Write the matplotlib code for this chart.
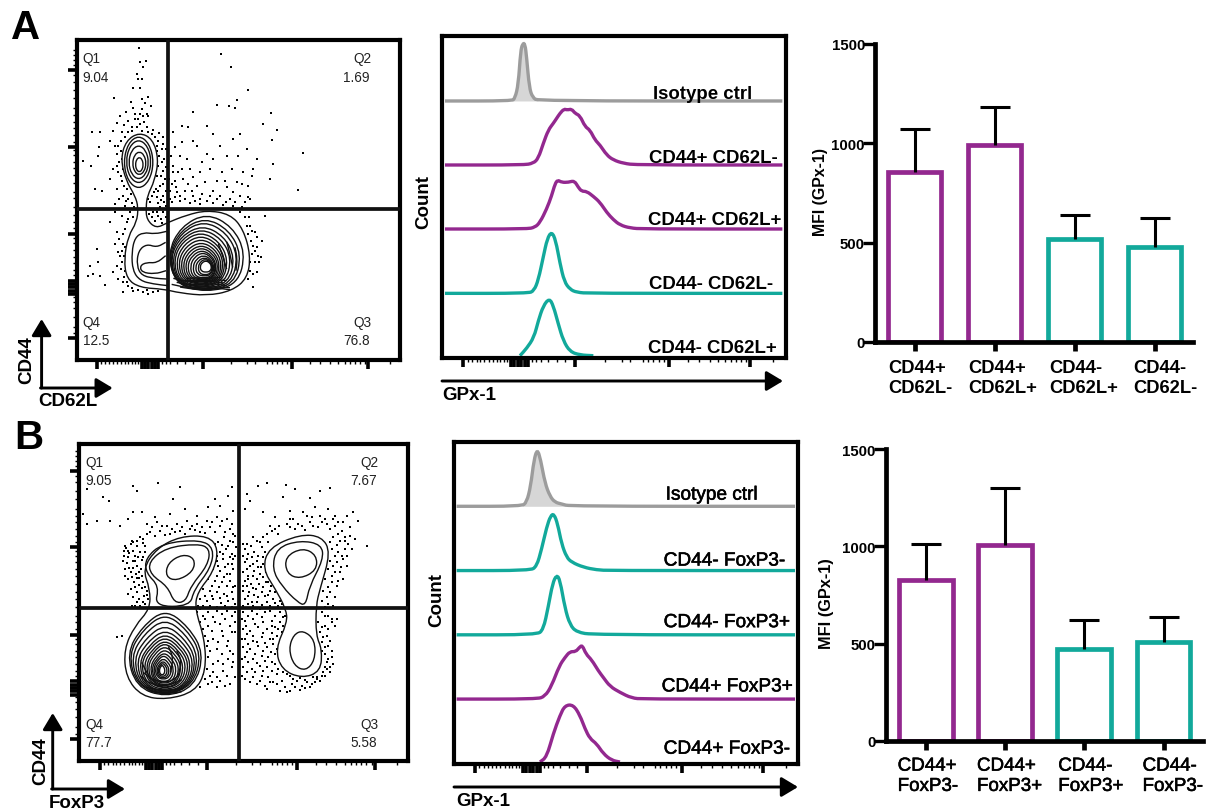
import numpy as np
import matplotlib
matplotlib.use("Agg")
import matplotlib.pyplot as plt
import matplotlib.patheffects as pe
from matplotlib.path import Path
from matplotlib.patches import PathPatch
from matplotlib.transforms import ScaledTranslation

plt.rcParams['font.family'] = ['Liberation Sans', 'DejaVu Sans']

W, H = 1208, 812
PURPLE = '#93288f'
TEAL = '#12a99b'
GREY = '#9c9c9c'

# ---- bar values
a_cats = ['CD44+\nCD62L-', 'CD44+\nCD62L+', 'CD44-\nCD62L+', 'CD44-\nCD62L-']
a_mfi = [855, 992, 516, 478]
a_top = [1073, 1185, 637, 623]
b_cats = ['CD44+\nFoxP3-', 'CD44+\nFoxP3+', 'CD44-\nFoxP3+', 'CD44-\nFoxP3-']
b_mfi = [827, 1006, 474, 508]
b_top = [1014, 1303, 621, 638]
bar_colors = [PURPLE, PURPLE, TEAL, TEAL]

# ---- histograms, (x, height above baseline)
a_iso = [(105,0),(305,0),(315,8),(325,50),(332,150),(338,172),(345,172),(350,130),(358,40),(368,10),(385,0),(1117,0)]
a_p1 = [(105,0),(340,0),(370,5),(385,20),(400,65),(415,105),(430,125),(440,140),(450,155),(462,168),(472,165),(485,168),(495,155),(510,148),(525,115),(540,105),(555,75),(570,60),(590,30),(610,15),(640,5),(680,0),(1117,0)]
a_p2 = [(105,0),(350,0),(375,5),(390,20),(410,60),(425,100),(435,135),(443,147),(455,140),(475,140),(493,145),(505,125),(515,113),(530,113),(550,98),(570,80),(590,50),(610,28),(630,12),(660,3),(700,0),(1117,0)]
a_t1 = [(105,0),(355,0),(372,8),(385,40),(400,110),(412,165),(425,185),(437,160),(450,90),(463,35),(480,12),(500,3),(540,0),(1117,0)]
a_t2 = [(330,0),(350,22),(372,55),(385,105),(400,150),(418,172),(430,150),(445,95),(460,45),(480,12),(510,2),(550,0)]
a_baselines = [246, 438, 630, 823, 1010]
a_hist_labels = ['Isotype ctrl', 'CD44+ CD62L-', 'CD44+ CD62L+', 'CD44- CD62L-', 'CD44- CD62L+']
a_label_x = [730, 717, 715, 717, 715]
a_label_y = [237, 428, 615, 808, 1000]

b_iso = [(110,0),(305,0),(320,12),(332,60),(342,140),(352,172),(362,140),(375,70),(390,30),(405,12),(425,7),(450,0),(1125,0)]
b_t1 = [(110,0),(330,0),(350,12),(365,65),(380,130),(392,165),(402,170),(413,140),(425,80),(440,40),(455,25),(490,10),(530,2),(570,0),(1125,0)]
b_t2 = [(110,0),(350,0),(370,15),(385,85),(398,155),(410,180),(420,165),(435,80),(450,30),(470,8),(520,0),(1125,0)]
b_p1 = [(110,0),(350,0),(375,8),(395,40),(418,100),(435,125),(450,143),(467,142),(478,155),(487,162),(498,135),(515,118),(535,85),(550,65),(570,38),(600,20),(635,3),(670,0),(1125,0)]
b_p2 = [(360,0),(380,15),(400,85),(420,140),(435,170),(460,172),(480,140),(495,100),(510,70),(530,55),(550,25),(575,5),(600,0)]
b_baselines = [247, 440, 633, 826, 1015]
b_hist_labels = ['Isotype ctrl', 'CD44- FoxP3-', 'CD44- FoxP3+', 'CD44+ FoxP3+', 'CD44+ FoxP3-']
b_label_x = [737, 731, 731, 725, 731]
b_label_y = [227, 425, 610, 803, 990]

# ---- flow panel A
a_quad = ['Q1', '9.04', 'Q2', '1.69', 'Q4', '12.5', 'Q3', '76.8']
a_quad_x = [248, 248, 1060, 1030, 248, 248, 1060, 1030]
a_quad_y = [190, 245, 190, 245, 982, 1036, 982, 1036]
a_outer = [(418,400),(458,420),(476,480),(464,545),(442,590),(438,625),(440,662),(468,688),(500,672),(560,648),(620,634),(690,645),(730,690),(752,770),(742,838),(695,876),(620,890),(540,882),(490,870),(420,866),(380,840),(372,780),(385,710),(410,670),(415,625),(405,590),(378,545),(362,480),(378,425)]
a_up_cx = [418, 418, 416, 416, 416]
a_up_cy = [497, 493, 490, 488, 490]
a_up_w = [24, 42, 62, 78, 92]
a_up_h = [45, 72, 105, 135, 163]
a_left = [503,505,508,510,515,520,527,534,541,548,555,562,570,578,586,594,600]
a_right = [737,725,715,705,695,685,678,672,666,660,655,650,647,643,640,637,635]
a_upper = [642,655,665,678,688,698,708,718,728,737,745,753,760,768,775,780,785]
a_lower = [880,878,875,872,868,865,862,858,855,852,848,845,842,838,832,828,820]
a_wiggles = [
    [(500,697),(465,705),(430,700),(405,715),(395,760),(398,815),(420,845),(460,855),(505,860)],
    [(497,730),(470,745),(440,735),(415,755),(410,800),(425,830),(465,838),(500,840)],
    [(497,770),(470,792),(440,790),(420,800),(425,820),(465,825),(498,815)],
]
a_dark = [
    [(520,838),(570,850),(620,845),(670,852)], [(530,850),(580,860),(630,852),(680,860)],
    [(515,856),(570,868),(625,862),(690,866)], [(540,864),(590,872),(640,866),(690,872)],
    [(560,838),(600,836),(640,838),(665,834)], [(550,844),(600,846),(650,842),(680,845)],
    [(655,735),(668,770),(680,810)], [(680,728),(690,765),(698,805)], [(705,745),(712,780),(708,815)],
]
a_dots = [(417,147),(437,185),(420,190),(430,205),(412,225),(425,240),(413,240),(398,267),(420,268),(445,295),(425,300),(343,298),(392,310),(435,312),(452,320),(400,328),(378,340),(420,345),(428,352),(445,350),(360,352),(385,365),(405,360),(432,368),(352,372),(372,378),(395,385),(420,375),(442,385),(460,392),(340,395),(365,400),(455,405),(478,402),(300,398),(275,398),(490,415),
    (330,425),(345,440),(362,425),(350,465),(365,480),(298,445),(295,470),(250,487),(272,500),(340,510),(355,520),(330,540),(365,545),(350,570),(305,575),(285,570),(370,590),(385,600),(358,600),(395,612),(345,615),(375,620),
    (470,440),(485,450),(478,470),(492,480),(475,500),(488,515),(470,530),(495,540),(480,560),(468,570),(455,590),(470,595),(490,590),(450,610),(475,612),(492,610),(460,640),(475,650),(490,640),(455,655),(483,660),(465,665),(450,630),(497,655),
    (662,165),(692,203),(745,272),(712,302),(650,318),(687,322),(705,328),(812,342),(580,340),(790,375),(830,393),(622,380),(547,382),(520,400),(565,385),(640,405),(720,405),(700,420),(815,422),(740,450),(908,462),(545,430),(580,425),(620,465),(660,440),(590,440),(525,445),(540,470),(560,480),(605,490),(640,480),(680,470),(715,470),(770,480),(760,510),(820,495),(810,540),(893,573),(520,500),(535,520),(570,510),(600,520),(630,510),(665,520),(695,510),(730,520),(525,545),(548,540),(565,555),(590,560),(615,550),(650,545),(680,565),(710,550),(745,560),(755,530),(510,575),(530,580),(555,575),(580,590),(605,585),(630,590),(660,590),(690,600),(720,590),(745,595),(515,610),(540,605),(570,612),(600,615),(640,612),(670,618),(700,620),(725,625),(750,600),
    (720,640),(735,655),(795,650),(750,680),(765,700),(785,725),(745,705),(760,740),(775,770),(755,765),(765,790),(782,775),(750,815),(745,840),(760,865),(770,820),
    (345,640),(365,650),(385,660),(330,670),(350,700),(375,690),(345,735),(290,750),(270,800),(295,790),(365,755),(360,770),(375,745),(350,800),(365,790),(340,820),(280,825),(300,830),(265,830),(375,815),(355,840),(370,850),(385,860),(315,858),(370,880),(400,875),(430,880),(460,880),(445,885),
    (355,440),(362,455),(358,490),(368,510),(352,500),(362,530),(372,560),(380,570),(392,585),(378,605),(402,625),(390,640),(398,655),(380,670),(370,705),(358,720),(368,735),(355,760),(372,770),(362,810),(372,835),(380,850),(395,868),(415,872),(440,872),(475,875),
    (465,415),(475,425),(490,435),(497,450),(472,455),(485,490),(497,505),(465,515),(482,530),(460,548),(490,555),(475,575),(497,575),(462,580),(445,600),(482,602),(497,622),(448,645),(470,640),(487,672),(480,625),
    (410,385),(425,395),(395,395),(385,400),(375,415),(445,400),(415,360),(405,345),(425,330),(440,345),
    (512,470),(518,520),(508,540),(515,555),(528,565),(540,590),(555,600),(585,605),(620,605),(650,600),(678,608),(705,608),(735,610),(525,595),(510,600),(600,600),(575,575),(640,575),(675,545),(700,580),(725,555),(545,510),(580,535),
    (748,655),(740,680),(755,695),(770,715),(752,725),(765,755),(750,790),(770,745),(778,790),(758,825)]

# ---- flow panel B
b_quad = ['Q1', '9.05', 'Q2', '7.67', 'Q4', '77.7', 'Q3', '5.58']
b_quad_x = [257, 257, 1080, 1050, 257, 257, 1080, 1050]
b_quad_y = [172, 225, 172, 225, 957, 1010, 957, 1010]
b_outer_l = [(428,480),(470,418),(540,382),(625,380),(656,420),(640,490),(592,550),(585,600),(614,690),(618,785),(585,848),(500,872),(425,862),(378,805),(372,720),(405,650),(450,600),(450,540)]
b_ring_l = [[(548,435),(585,448),(580,488),(530,516),(497,503),(503,462)],
            [(592,404),(630,418),(624,468),(572,532),(557,578),(523,582),(503,532),(452,497),(446,458),(498,416)],
            [(602,392),(642,418),(632,478),(582,542),(570,592),(463,592),(478,532),(438,492),(436,448),(488,402)]]
b_outer_r = [(900,376),(965,382),(992,430),(960,540),(948,590),(948,680),(966,720),(962,788),(905,808),(845,782),(826,720),(862,640),(858,600),(826,540),(788,480),(806,416)]
b_ring_r = [[(908,416),(950,438),(950,484),(900,510),(860,494),(855,443)],
            [(900,394),(965,406),(970,452),(928,532),(917,590),(893,580),(846,532),(816,480),(830,416)],
            [(910,664),(945,693),(945,754),(917,786),(882,770),(866,720),(881,676)]]
b_left = [380,385,392,400,408,416,422,430,437,443,450,455,460,465,470,474,478]
b_right = [612,605,597,590,583,575,568,560,552,545,538,530,522,515,508,502,495]
b_upper = [600,612,628,645,660,672,682,692,700,710,720,730,738,748,756,762,768]
b_lower = [865,860,858,855,852,850,845,840,838,833,830,825,820,812,808,803,798]
b_dark = [
    [(420,800),(450,825),(500,832),(545,812)], [(430,790),(460,815),(510,820),(535,800)],
    [(445,845),(490,856),(545,848)], [(440,835),(490,845),(550,838)],
    [(505,712),(520,745),(512,790)], [(530,725),(545,755),(535,800)], [(425,760),(445,800),(470,825)],
]
b_dots = [(262,240),(400,232),(410,245),(475,222),(540,235),(695,235),(685,262),(645,270),(740,255),(775,232),(800,222),(858,228),(885,240),(990,238),(960,245),(930,268),(850,265),(750,275),(310,265),(328,275),(520,270),(250,315),(262,345),(290,335),(330,335),(400,310),(360,350),(385,330),(425,310),(465,325),(510,315),(555,300),(590,320),(625,295),(660,290),(700,305),(735,300),(790,310),(825,325),(870,305),(910,310),(945,295),(985,300),(1005,320),(1040,320),(1075,335),(1060,310),
    (440,345),(470,340),(500,350),(530,345),(560,335),(590,345),(620,335),(650,325),(680,330),(450,370),(480,365),(510,375),(540,365),(570,360),(600,370),(630,355),(660,350),(690,360),(420,385),(395,395),(375,410),(410,395),(430,390),
    (378,418),(392,405),(412,412),(428,402),(372,440),(388,432),(405,440),(420,428),(436,430),(380,462),(398,455),(412,470),(425,452),(375,480),(392,488),(408,495),(422,480),(384,510),(402,520),(418,508),(430,520),(392,540),(410,548),(425,538),(440,545),(400,565),(418,570),(432,560),(445,570),(435,585),(452,580),(420,590),(395,590),
    (655,400),(672,385),(690,395),(705,380),(660,430),(678,420),(695,435),(708,415),(650,455),(668,450),(685,465),(700,450),(640,480),(660,485),(680,495),(698,480),(625,510),(645,515),(665,520),(690,515),(705,530),(610,540),(630,545),(650,550),(672,555),(695,548),(600,570),(620,575),(640,570),(662,582),(685,575),(705,585),(595,590),(650,595),
    (590,610),(610,620),(640,625),(665,615),(695,620),(600,640),(625,650),(660,645),(690,650),(615,680),(640,690),(670,680),(705,670),(620,710),(650,720),(680,710),(700,735),(625,745),(655,755),(685,750),(620,780),(640,790),(670,785),(695,775),(615,810),(635,820),(660,815),(690,825),(705,805),(600,835),(650,835),(352,683),(365,680),
    (735,420),(752,410),(770,395),(790,385),(815,365),(838,352),(730,440),(745,435),(762,430),(785,415),(805,400),(735,460),(750,470),(770,455),(790,445),(730,490),(745,500),(762,485),(782,475),(735,515),(752,525),(770,510),(790,505),(805,520),(730,545),(748,550),(768,540),(788,535),(810,545),(735,570),(755,580),(775,565),(795,560),(820,570),(840,575),(730,590),(760,592),(785,588),(810,592),(835,590),
    (810,350),(860,345),(885,360),(905,350),(930,340),(955,355),(980,345),(1005,350),(1025,365),(1050,355),(1065,390),(1100,412),(870,330),(920,320),(960,320),(1000,330),(1030,340),
    (1000,385),(1020,395),(1045,405),(995,420),(1015,430),(1035,420),(990,455),(1010,460),(1030,450),(985,480),(1005,490),(1022,475),(975,510),(995,520),(1015,515),(970,545),(990,550),(1005,565),(965,575),(985,585),(1030,510),
    (730,610),(755,605),(780,600),(810,605),(840,608),(855,620),(735,635),(760,630),(785,625),(815,635),(840,640),(728,660),(750,665),(775,655),(800,660),(825,655),(848,650),(735,690),(760,695),(785,685),(810,690),(830,680),(728,715),(750,720),(775,712),(800,715),(820,705),(735,745),(760,750),(785,740),(805,745),(825,735),(730,775),(755,780),(780,770),(800,775),(825,765),(735,810),(760,805),(785,800),(805,805),(830,795),(770,825),(795,830),(820,820),(845,815),(850,790),(840,845),
    (860,850),(875,825),(890,815),(905,830),(920,820),(935,825),(950,810),(965,800),(980,780),(870,800),(900,808),
    (965,610),(985,620),(1010,630),(955,640),(975,650),(995,640),(960,670),(980,680),(965,700),(985,710),(975,735),(995,745),(980,760),(960,760),(990,775),(970,790),(950,805),
    (385,425),(400,425),(415,445),(430,445),(368,455),(386,478),(400,478),(416,490),(376,500),(395,505),(410,508),(425,500),(405,535),(418,528),(435,535),(385,555),(412,580),(428,578),(442,558),(405,590),(372,425),(405,455),(440,500),(385,445),(435,410),(400,400),
    (455,355),(485,350),(515,360),(545,355),(575,350),(605,355),(635,340),(665,335),(695,345),(465,380),(495,378),(525,368),(555,375),(585,362),(615,372),(645,370),(675,368),(440,375),(700,375),
    (645,405),(665,408),(685,410),(700,400),(650,440),(670,435),(690,445),(705,440),(655,470),(675,475),(695,465),(650,500),(672,505),(690,495),(635,530),(658,535),(680,530),(700,535),(615,560),(635,560),(660,568),(680,562),(700,570),(610,590),(630,592),(675,592),(695,595),(600,525),(620,495),
    (600,600),(625,610),(650,605),(680,605),(705,610),(615,630),(645,640),(675,630),(705,640),(610,660),(635,665),(665,665),(695,670),(625,695),(655,700),(685,695),(630,725),(665,735),(690,725),(640,765),(670,765),(700,760),(630,800),(650,805),(680,800),(625,825),(675,830),(610,795),
    (740,405),(760,385),(780,400),(800,375),(825,360),(740,450),(755,445),(775,440),(795,430),(742,480),(758,465),(775,475),(790,465),(745,510),(760,500),(780,495),(798,490),(740,530),(760,538),(778,525),(797,520),(812,530),(745,562),(762,558),(785,550),(805,558),(825,550),(745,585),(770,580),(800,580),(825,582),(845,585),(730,405),(728,530),
    (835,375),(870,355),(895,345),(915,362),(940,350),(965,340),(990,360),(1015,375),(1035,385),(1050,380),(880,330),(935,325),(975,330),(1015,340),
    (990,400),(1010,408),(1035,395),(1055,420),(1005,440),(1025,440),(1000,470),(1020,490),(995,500),(1010,530),(985,535),(980,565),(1000,590),(975,595),(1040,440),(1040,470),
    (745,620),(770,615),(795,610),(825,620),(848,625),(738,650),(765,645),(790,640),(815,650),(835,660),(740,675),(760,680),(790,672),(815,672),(845,668),(745,705),(770,700),(795,702),(820,690),(740,730),(765,735),(790,725),(812,730),(832,720),(745,760),(770,762),(795,755),(815,760),(742,790),(765,790),(790,785),(815,785),(835,780),(750,820),(780,815),(810,820),(830,825),(855,835),(870,845),(800,840),(725,630),(725,690),(725,750),(725,800),
    (885,835),(900,842),(915,838),(930,835),(945,820),(960,815),(975,800),(990,790),(880,810),(860,795),(915,812),(940,805),
    (975,620),(995,630),(965,655),(985,660),(1005,650),(970,685),(990,695),(975,715),(995,725),(965,725),(985,750),(1000,765),(975,775)]

# ---- instrument axis ticks, measured from the first major tick
x_major = [0, 135, 145, 155, 165, 175, 185, 318, 585, 815]
x_minor = [12, 25, 38, 48, 60, 72, 85, 95, 105, 115, 125, 195, 207, 220, 240, 265, 290, 402, 450, 475, 510, 525, 540, 555, 570, 640, 670, 700, 725, 745, 760, 775, 790, 805, 880]
y_major = [0, 133, 143, 153, 163, 173, 313, 575, 805]
y_minor = [15, 35, 65, 90, 110, 125, 190, 205, 225, 245, 265, 285, 300, 330, 350, 370, 395, 420, 440, 465, 490, 510, 530, 550, 565, 590, 610, 630, 650, 670, 690, 720, 745, 770, 790, 820, 835, 850, 865]


def add_ax(l, t, r, b):
    return fig.add_axes([l / W, 1 - b / H, (r - l) / W, (b - t) / H])


def curve(pts, closed=True):
    pts = np.array(pts, dtype=float)
    if closed:
        mids = (pts + np.roll(pts, -1, axis=0)) / 2
        verts, codes = [mids[-1]], [Path.MOVETO]
        for p, m in zip(pts, mids):
            verts += [p, m]
            codes += [Path.CURVE3, Path.CURVE3]
    else:
        mids = (pts[1:] + pts[:-1]) / 2
        verts, codes = [pts[0], mids[0]], [Path.MOVETO, Path.LINETO]
        for p, m in zip(pts[1:-1], mids[1:]):
            verts += [p, m]
            codes += [Path.CURVE3, Path.CURVE3]
        verts.append(pts[-1])
        codes.append(Path.LINETO)
    return Path(verts, codes)


def frame(ax, lw=3):
    ax.set_yticks([])
    for s in ax.spines.values():
        s.set_linewidth(lw)
    ax.set_facecolor('none')


def x_ticks(ax, start, scale):
    ax.set_xticks([start + scale * v for v in x_major])
    ax.set_xticks([start + scale * v for v in x_minor], minor=True)
    ax.set_xticklabels([])
    ax.tick_params(axis='x', which='major', length=6.2, width=2.6)
    ax.tick_params(axis='x', which='minor', length=3, width=1)


def y_ticks(ax, start):
    ax.set_yticks([start - v for v in y_major])
    ax.set_yticks([start - v for v in y_minor], minor=True)
    ax.set_yticklabels([])
    ax.tick_params(axis='y', which='major', length=6.2, width=2.6)
    ax.tick_params(axis='y', which='minor', length=3, width=1)


def flow_base(ax, dots, gx, gy, quad, qx, qy, size):
    xs, ys = zip(*dots)
    ax.scatter(xs, ys, s=size, c='k', marker='s', linewidths=0, zorder=1)
    ax.axvline(gx, color='#111111', lw=2.7, zorder=6)
    ax.axhline(gy, color='#111111', lw=2.7, zorder=6)
    for t, x, y in zip(quad, qx, qy):
        ax.text(x, y, t, fontsize=9.8, color='#222222', va='baseline', ha='left')


def line(ax, pts, closed=True, fc='none', z=3):
    ax.add_patch(PathPatch(curve(pts, closed=closed), fc=fc, ec='#111111', lw=1.0, zorder=z))


def rings(ax, left, right, upper, lower, top_in=0.17, bot_in=0.10):
    # contour levels: rounder on top, flatter at the bottom
    for l, r, u, d in zip(left, right, upper, lower):
        cx, cy = (l + r) / 2, (u + d) / 2
        w, h = r - l, d - u
        line(ax, [(cx, u), (r - top_in * w, u + top_in * h), (r, cy), (r - bot_in * w, d - bot_in * h),
                  (cx, d), (l + bot_in * w, d - bot_in * h), (l, cy), (l + top_in * w, u + top_in * h)])


def hist_panel(ax, curves, colors, baselines, labels, lx, ly, medium=False):
    for c, col, base in zip(curves, colors, baselines):
        xs, hs = zip(*c)
        ys = [base - h for h in hs]
        if col == GREY:
            ax.fill_between(xs, ys, base, color='#d6d6d6', lw=0, zorder=1)
        ax.add_patch(PathPatch(curve(list(zip(xs, ys)), closed=False), fc='none', ec=col, lw=2.4, zorder=2))
    for t, x, y in zip(labels, lx, ly):
        if medium:
            ax.text(x, y, t, fontsize=13.7, va='baseline', zorder=3,
                    path_effects=[pe.withStroke(linewidth=0.4, foreground='k')])
        else:
            ax.text(x, y, t, fontsize=13.4, fontweight='bold', va='baseline', zorder=3)


def bar_panel(ax, cats, mfi, top, width, lim, shifts, medium=False):
    pos = np.arange(len(cats))
    ax.bar(pos, mfi, width=width, facecolor='white', edgecolor=bar_colors, linewidth=3.4, zorder=2)
    err = [m_t - m for m_t, m in zip(top, mfi)]
    eb = ax.errorbar(pos, mfi, yerr=[[0] * len(cats), err], fmt='none', ecolor='k', elinewidth=2.2,
                     capsize=10.8, capthick=2.2, zorder=3)
    eb[1][0].set_visible(False)
    ax.set_xlim(*lim)
    ax.set_ylim(0, 1500)
    ax.set_yticks([0, 500, 1000, 1500])
    ax.set_xticks(pos)
    ax.set_xticklabels(cats, linespacing=1.25)
    for s in ['top', 'right']:
        ax.spines[s].set_visible(False)
    for s in ['left', 'bottom']:
        ax.spines[s].set_linewidth(3.4)
        ax.spines[s].set_zorder(5)
    ax.tick_params(axis='y', length=8.4, width=2.4, pad=-1.2)
    ax.tick_params(axis='x', length=6.7, width=3.4, pad=5.5)
    ax.set_facecolor('none')
    for lab in ax.get_yticklabels():
        lab.set_fontsize(10.8)
        lab.set_fontweight('bold')
    for lab, dx in zip(ax.get_xticklabels(), shifts):
        lab.set_ha('left')
        lab.set_multialignment('left')
        lab.set_transform(lab.get_transform() + ScaledTranslation(dx / 100, 0, fig.dpi_scale_trans))
        if medium:
            lab.set_fontsize(13.5)
            lab.set_path_effects([pe.withStroke(linewidth=0.4, foreground='k')])
        else:
            lab.set_fontsize(13.2)
            lab.set_fontweight('bold')


def arrow(ax, start, tip, hl=10, hw=6):
    ax.annotate('', xy=tip, xytext=start,
                arrowprops=dict(arrowstyle='-|>,head_length=%g,head_width=%g' % (hl, hw),
                                color='k', lw=2.1, shrinkA=0, shrinkB=0, mutation_scale=1))


fig = plt.figure(figsize=(W / 100, H / 100), dpi=100)
fig.patch.set_facecolor('white')

# panel A flow
ax = add_ax(77, 41.3, 400.3, 360.7)
ax.set_xlim(231, 1201)
ax.set_ylim(1082, 124)
frame(ax)
x_ticks(ax, 290, 1.0)
y_ticks(ax, 1018)
flow_base(ax, a_dots, 503, 629, a_quad, a_quad_x, a_quad_y, 1.6)
line(ax, a_outer, fc='white', z=2)
for cx, cy, w, h in zip(a_up_cx, a_up_cy, a_up_w, a_up_h):
    rings(ax, [cx - w / 2], [cx + w / 2], [cy - h / 2], [cy + h / 2], 0.15, 0.15)
rings(ax, a_left, a_right, a_upper, a_lower)
for w in a_wiggles + a_dark:
    line(ax, w, closed=False)

# panel B flow
ax = add_ax(79.3, 444.7, 408, 762)
ax.set_xlim(238, 1224)
ax.set_ylim(1056, 104)
frame(ax)
x_ticks(ax, 300, 1.012)
y_ticks(ax, 990)
flow_base(ax, b_dots, 716, 597, b_quad, b_quad_x, b_quad_y, 2.2)
line(ax, b_outer_l, fc='white', z=2)
line(ax, b_outer_r, fc='white', z=2)
for r in b_ring_l + b_ring_r:
    line(ax, r)
rings(ax, b_left, b_right, b_upper, b_lower, 0.2, 0.12)
for w in b_dark:
    line(ax, w, closed=False)

# histograms
ax = add_ax(442.3, 37.3, 785.7, 358.7)
ax.set_xlim(97, 1127)
ax.set_ylim(1016, 52)
frame(ax)
x_ticks(ax, 160, 1.055)
hist_panel(ax, [a_iso, a_p1, a_p2, a_t1, a_t2], [GREY, PURPLE, PURPLE, TEAL, TEAL], a_baselines,
           a_hist_labels, a_label_x, a_label_y)

ax = add_ax(454.3, 442.7, 798, 765)
ax.set_xlim(103, 1134)
ax.set_ylim(1021, 53)
frame(ax)
x_ticks(ax, 165, 1.06)
hist_panel(ax, [b_iso, b_t1, b_t2, b_p1, b_p2], [GREY, TEAL, TEAL, PURPLE, PURPLE], b_baselines,
           b_hist_labels, b_label_x, b_label_y, medium=True)

# bars
ax = add_ax(875, 45, 1193, 343)
bar_panel(ax, a_cats, a_mfi, a_top, 0.658, (-0.496, 3.479), [-26, -26, -25, -21])
ax = add_ax(885.7, 450.3, 1203, 741.7)
bar_panel(ax, b_cats, b_mfi, b_top, 0.677, (-0.504, 3.497), [-28, -28, -26, -21], medium=True)

# overlay with arrows and loose labels, in reference pixels
ov = fig.add_axes([0, 0, 1, 1])
ov.set_xlim(0, W)
ov.set_ylim(H, 0)
ov.axis('off')
ov.patch.set_alpha(0)
arrow(ov, (41.6, 389), (41.6, 320))
arrow(ov, (40.5, 389), (112.7, 389))
arrow(ov, (52.7, 790), (52.7, 714))
arrow(ov, (51.6, 790), (125, 790))
arrow(ov, (442, 382), (783, 382))
arrow(ov, (454, 788), (798, 788))

bold = dict(fontweight='bold', fontsize=13.5)
ov.text(11, 39, 'A', fontsize=29, fontweight='bold', va='baseline')
ov.text(14, 449, 'B', fontsize=29, fontweight='bold', va='baseline')
ov.text(27, 360, 'CD44', rotation=90, ha='center', va='center', **bold)
ov.text(38, 406, 'CD62L', va='baseline', **bold)
ov.text(41, 761, 'CD44', rotation=90, ha='center', va='center', **bold)
ov.text(49, 808, 'FoxP3', va='baseline', **bold)
ov.text(424, 202, 'Count', rotation=90, ha='center', va='center', **bold)
ov.text(437, 600, 'Count', rotation=90, ha='center', va='center', **bold)
ov.text(442, 400, 'GPx-1', va='baseline', **bold)
ov.text(456, 806, 'GPx-1', va='baseline', **bold)
ov.text(820, 192, 'MFI (GPx-1)', rotation=90, ha='center', va='center', fontweight='bold', fontsize=11.4)
ov.text(827, 604, 'MFI (GPx-1)', rotation=90, ha='center', va='center', fontweight='bold', fontsize=11.8)

fig.savefig('out.png', dpi=100)
